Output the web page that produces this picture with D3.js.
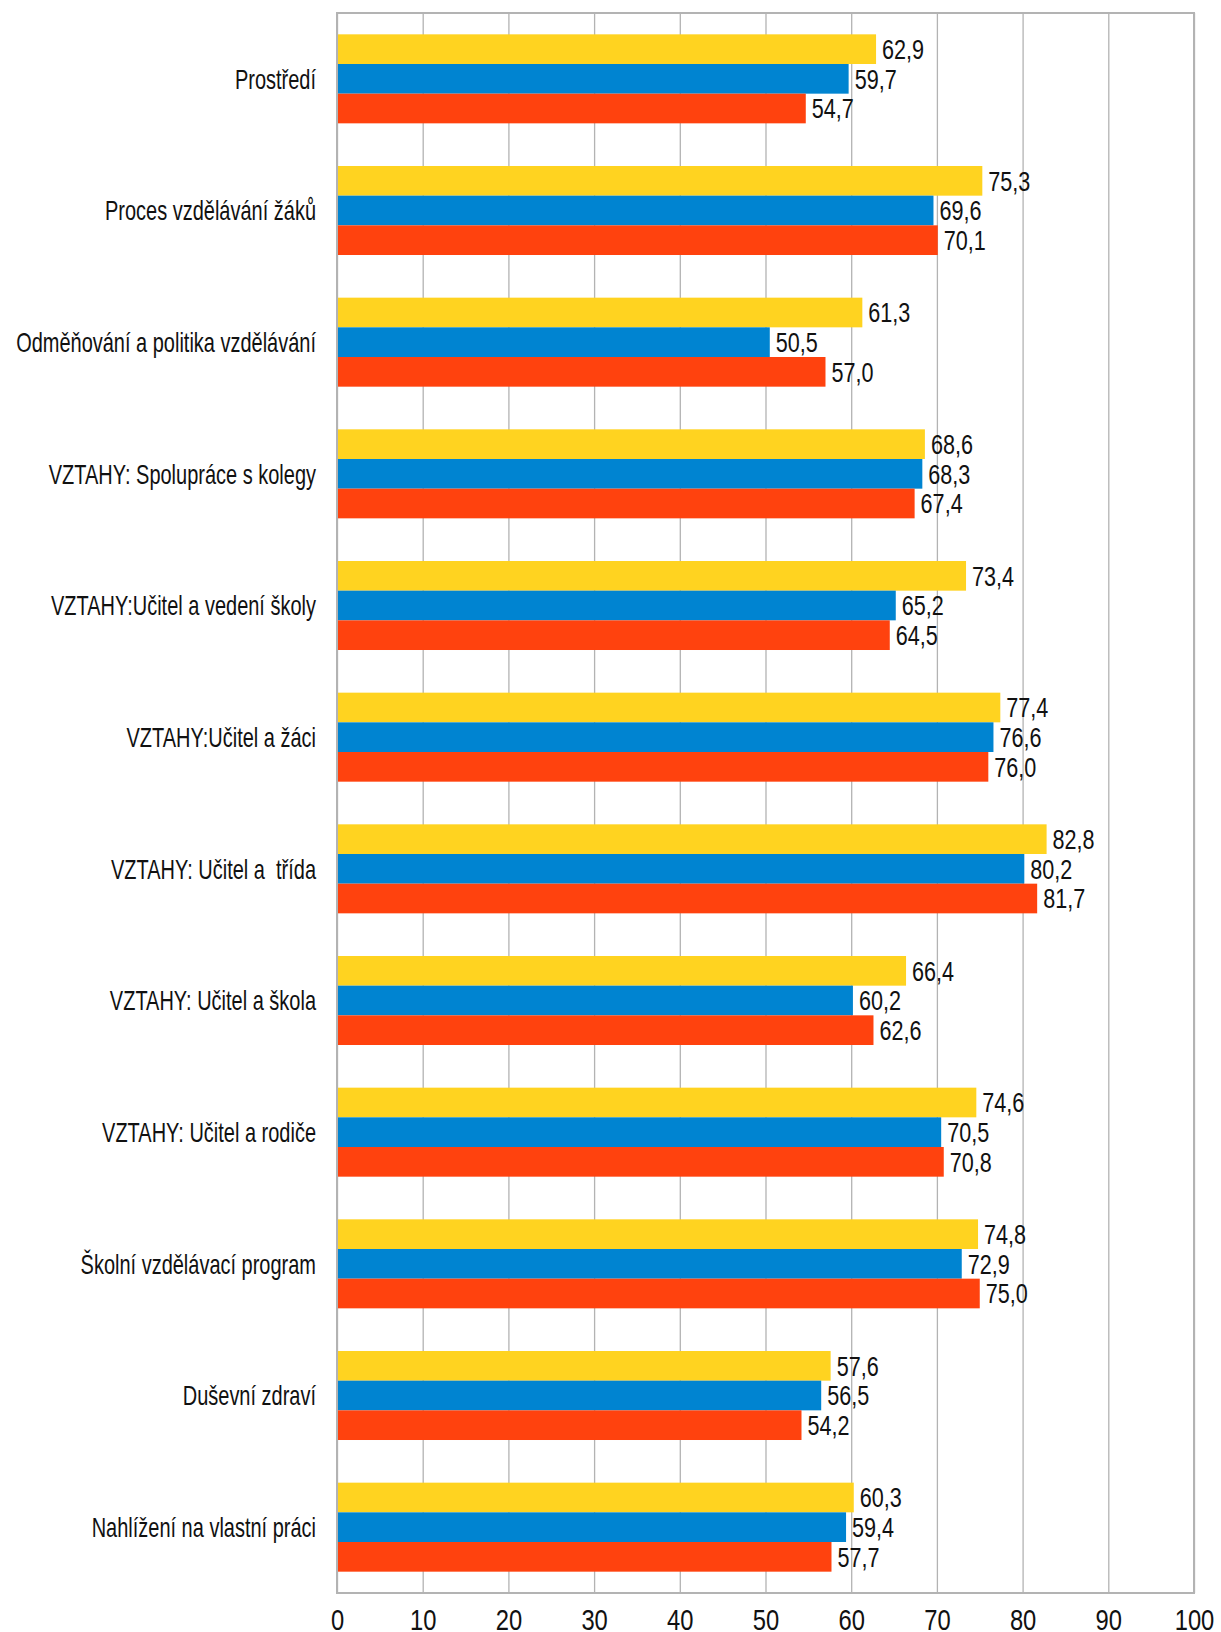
<meta charset="UTF-8">
<script src="https://cdn.jsdelivr.net/npm/d3@7"></script>

<svg id="bar_chart"></svg>

<style>
 body { margin:0; background:#fff; }
 #bar_chart { display:block; font-family:"Liberation Sans",Arial,sans-serif; }
 #grid line { stroke:#b3b3b3; stroke-width:1.3px; }
 #grid .domain { display:none; }
 #frame { fill:none; stroke:#b3b3b3; stroke-width:2px; }
 .cat_label { font-size:27px; fill:#111; white-space:pre; }
 .val_label { font-size:27px; fill:#111; }
 #xaxis text { font-size:29px; fill:#111; }
 #xaxis .domain, #xaxis line { display:none; }
</style>

<script>
 // Categories, top to bottom
 var categories = [
     "Prostředí",
     "Proces vzdělávání žáků",
     "Odměňování a politika vzdělávání",
     "VZTAHY: Spolupráce s kolegy",
     "VZTAHY:Učitel a vedení školy",
     "VZTAHY:Učitel a žáci",
     "VZTAHY: Učitel a  třída",
     "VZTAHY: Učitel a škola",
     "VZTAHY: Učitel a rodiče",
     "Školní vzdělávací program",
     "Duševní zdraví",
     "Nahlížení na vlastní práci"
 ];
 // three series, drawn yellow / blue / red inside each group
 var series1 = [62.9, 75.3, 61.3, 68.6, 73.4, 77.4, 82.8, 66.4, 74.6, 74.8, 57.6, 60.3];
 var series2 = [59.7, 69.6, 50.5, 68.3, 65.2, 76.6, 80.2, 60.2, 70.5, 72.9, 56.5, 59.4];
 var series3 = [54.7, 70.1, 57.0, 67.4, 64.5, 76.0, 81.7, 62.6, 70.8, 75.0, 54.2, 57.7];
 var seriesNames = ["series1", "series2", "series3"];
 var colors = ["#ffd320", "#0084d1", "#ff420e"];
 var xTicks = [0, 10, 20, 30, 40, 50, 60, 70, 80, 90, 100];

 var W = 1221, H = 1632;
 var plotLeft = 337, plotRight = 1194, plotTop = 13, plotBottom = 1593;

 var svg = d3.select("#bar_chart").attr("width", W).attr("height", H);

 var x = d3.scaleLinear().domain([0, 100]).range([plotLeft, plotRight]);
 var y = d3.scaleBand().domain(categories).range([plotTop, plotBottom])
	   .paddingInner(0.324).paddingOuter(0.162);
 var ySub = d3.scaleBand().domain(seriesNames).range([0, y.bandwidth()]);

 var fmt = function (v) { return d3.format(".1f")(v).replace(".", ","); };

 // vertical grid lines
 svg.append("g").attr("id", "grid")
    .attr("transform", "translate(0," + plotBottom + ")")
    .call(d3.axisBottom(x).tickValues(xTicks).tickSize(-(plotBottom - plotTop)).tickFormat(""));

 var rows = categories.map(function (c, i) {
     return { cat: c, vals: [series1[i], series2[i], series3[i]] };
 });

 var groups = svg.selectAll(".group").data(rows).enter().append("g")
		 .attr("class", "group")
		 .attr("transform", function (d) { return "translate(0," + y(d.cat) + ")"; });

 var cells = groups.selectAll(".cell")
		   .data(function (d) { return d.vals.map(function (v, j) { return { s: seriesNames[j], v: v, c: colors[j] }; }); })
		   .enter();

 cells.append("rect")
      .attr("x", x(0))
      .attr("y", function (d) { return ySub(d.s); })
      .attr("width", function (d) { return x(d.v) - x(0); })
      .attr("height", ySub.bandwidth())
      .attr("fill", function (d) { return d.c; });

 // condensed look: scale glyphs horizontally
 cells.append("text").attr("class", "val_label")
      .attr("transform", function (d) {
	  return "translate(" + (x(d.v) + 6) + "," + (ySub(d.s) + ySub.bandwidth() / 2) + ") scale(0.8,1)";
      })
      .attr("dy", "0.36em")
      .text(function (d) { return fmt(d.v); });

 groups.append("text").attr("class", "cat_label")
       .attr("transform", "translate(" + (plotLeft - 21) + "," + (y.bandwidth() / 2) + ") scale(0.74,1)")
       .attr("dy", "0.36em")
       .attr("text-anchor", "end")
       .text(function (d) { return d.cat; });

 // plot frame
 svg.append("rect").attr("id", "frame")
    .attr("x", plotLeft).attr("y", plotTop)
    .attr("width", plotRight - plotLeft).attr("height", plotBottom - plotTop);

 // x axis labels
 svg.append("g").attr("id", "xaxis")
    .attr("transform", "translate(0," + plotBottom + ")")
    .call(d3.axisBottom(x).tickValues(xTicks).tickSize(0).tickPadding(16).tickFormat(d3.format("d")))
    .selectAll("text").attr("transform", "scale(0.82,1)");
</script>
